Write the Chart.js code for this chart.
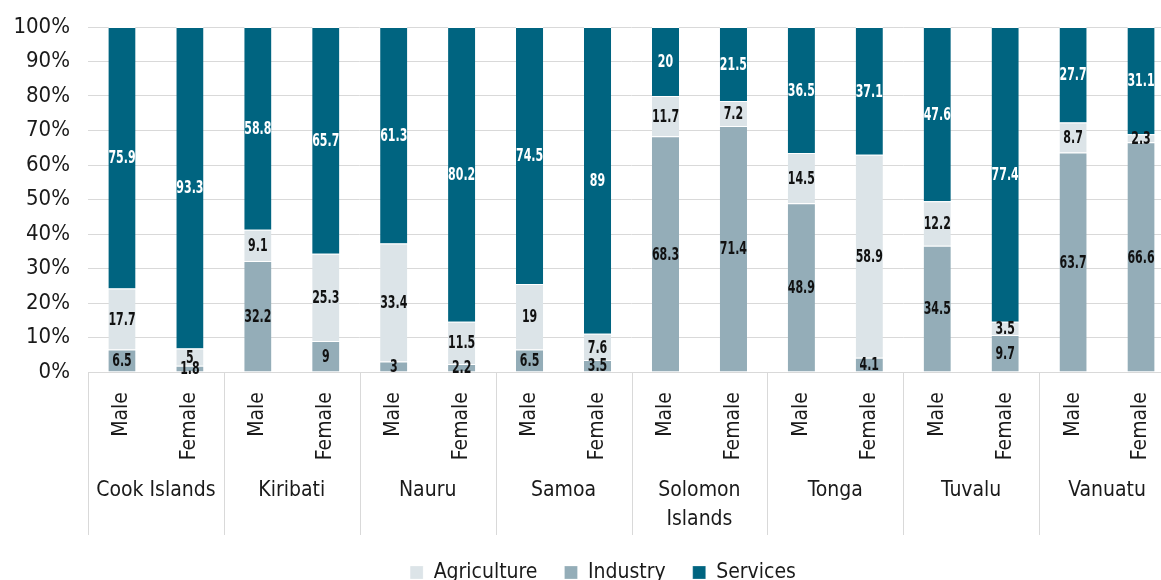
<!DOCTYPE html>
<html>
<head>
<meta charset="utf-8">
<script src="https://cdn.jsdelivr.net/npm/chart.js@4.4.1/dist/chart.umd.min.js"></script>
<style>
  html, body { margin: 0; padding: 0; background: #fff; overflow: hidden; }
  #wrap { width: 1206px; height: 600px; }
</style>
</head>
<body>
<div id="wrap"><canvas id="sectorChart"></canvas></div>
<script>
// sex categories, grouped by country (two bars per country)
const countries = ['Cook Islands', 'Kiribati', 'Nauru', 'Samoa', 'Solomon Islands', 'Tonga', 'Tuvalu', 'Vanuatu'];
const sexes = ['Male', 'Female'];
const categories = countries.flatMap(() => sexes);

// employment share by sector, % (as labelled in the source)
const industry    = [6.5, 1.8, 32.2, 9, 3, 2.2, 6.5, 3.5, 68.3, 71.4, 48.9, 4.1, 34.5, 9.7, 63.7, 66.6];
const agriculture = [17.7, 5, 9.1, 25.3, 33.4, 11.5, 19, 7.6, 11.7, 7.2, 14.5, 58.9, 12.2, 3.5, 8.7, 2.3];
const services    = [75.9, 93.3, 58.8, 65.7, 61.3, 80.2, 74.5, 89, 20, 21.5, 36.5, 37.1, 47.6, 77.4, 27.7, 31.1];

const yTicks = [0, 10, 20, 30, 40, 50, 60, 70, 80, 90, 100];
const legendOrder = ['Agriculture', 'Industry', 'Services'];

// 100% stacked: each bar scaled to its own total
const totals = categories.map((_, i) => industry[i] + agriculture[i] + services[i]);
const share = arr => arr.map((v, i) => v / totals[i] * 100);

const FONT = '"DejaVu Sans Condensed", "Liberation Sans Narrow", "Liberation Sans", sans-serif';
const TEXT = '#1a1a1a';
const GRID = '#d9d9d9';

// value labels in the middle of each segment (narrowed bold text)
const barLabels = {
  id: 'barLabels',
  afterDatasetsDraw(chart) {
    const ctx = chart.ctx;
    chart.data.datasets.forEach((ds, i) => {
      const meta = chart.getDatasetMeta(i);
      meta.data.forEach((bar, j) => {
        const p = bar.getProps(['x', 'y', 'base'], true);
        ctx.save();
        ctx.translate(p.x, (p.y + p.base) / 2 + 1);
        ctx.scale(0.68, 1);
        ctx.font = 'bold 18px ' + FONT;
        ctx.textAlign = 'center';
        ctx.textBaseline = 'middle';
        ctx.fillStyle = ds.label === 'Services' ? '#ffffff' : '#111111';
        ctx.fillText(String(ds.rawValues[j]), 0, 0);
        ctx.restore();
      });
    });
  }
};

// country names and group dividers under the Male/Female ticks
const countryAxis = {
  id: 'countryAxis',
  afterLayout(chart) {
    // centre the legend on the whole canvas, not only the padded part
    const shift = (chart.options.layout.padding.right - chart.options.layout.padding.left) / 2;
    chart.legend.left += shift;
    chart.legend.right += shift;
  },
  afterDraw(chart) {
    const ctx = chart.ctx;
    const xs = chart.scales.x;
    const slot = xs.getPixelForValue(1) - xs.getPixelForValue(0);
    ctx.save();
    ctx.strokeStyle = GRID;
    ctx.lineWidth = 1;
    for (let g = 0; g <= countries.length; g++) {
      const px = Math.round(xs.getPixelForValue(g * 2) - slot / 2) + 0.5;
      ctx.beginPath();
      ctx.moveTo(px, xs.top);
      ctx.lineTo(px, xs.bottom);
      ctx.stroke();
    }
    ctx.fillStyle = TEXT;
    ctx.font = '21px ' + FONT;
    ctx.textAlign = 'center';
    ctx.textBaseline = 'middle';
    countries.forEach((name, g) => {
      const cx = xs.getPixelForValue(g * 2) + slot / 2;
      const lines = ctx.measureText(name).width > slot * 2 - 12 ? name.split(' ') : [name];
      lines.forEach((ln, k) => ctx.fillText(ln, cx, xs.top + 119 + k * 29));
    });
    ctx.restore();
  }
};

new Chart(document.getElementById('sectorChart').getContext('2d'), {
  type: 'bar',
  data: {
    labels: categories,
    datasets: [
      { label: 'Industry', data: share(industry), rawValues: industry, backgroundColor: '#94adb8' },
      { label: 'Agriculture', data: share(agriculture), rawValues: agriculture, backgroundColor: '#dce4e8' },
      { label: 'Services', data: share(services), rawValues: services, backgroundColor: '#006480' }
    ].map(ds => Object.assign(ds, {
      borderColor: '#ffffff',
      borderWidth: { top: 1, left: 0, right: 0, bottom: 0 },
      borderSkipped: false,
      categoryPercentage: 1,
      barPercentage: 0.4
    }))
  },
  options: {
    responsive: true,
    maintainAspectRatio: false,
    animation: false,
    layout: { padding: { top: 27, right: 31, bottom: 7, left: 0 } },
    plugins: {
      tooltip: { enabled: false },
      legend: {
        position: 'bottom',
        labels: {
          boxWidth: 13,
          boxHeight: 13,
          padding: 27,
          color: TEXT,
          font: { family: FONT, size: 21 },
          sort: (a, b) => legendOrder.indexOf(a.text) - legendOrder.indexOf(b.text)
        }
      }
    },
    scales: {
      x: {
        stacked: true,
        grid: { display: false, drawTicks: false },
        border: { display: true, color: GRID, width: 1 },
        ticks: {
          autoSkip: false,
          maxRotation: 90,
          minRotation: 90,
          padding: 20,
          color: TEXT,
          font: { family: FONT, size: 21 }
        },
        afterFit: scale => { scale.height = 163; }
      },
      y: {
        stacked: true,
        min: 0,
        max: 100,
        afterBuildTicks: scale => { scale.ticks = yTicks.map(v => ({ value: v })); },
        grid: { color: GRID, drawTicks: false },
        border: { display: false },
        ticks: {
          padding: 18,
          color: TEXT,
          font: { family: FONT, size: 22 },
          callback: v => v + '%'
        },
        afterFit: scale => {
          scale.width = 88;
          scale.paddingTop = 0;
          scale.paddingBottom = 0;
        }
      }
    }
  },
  plugins: [barLabels, countryAxis]
});
</script>
</body>
</html>
